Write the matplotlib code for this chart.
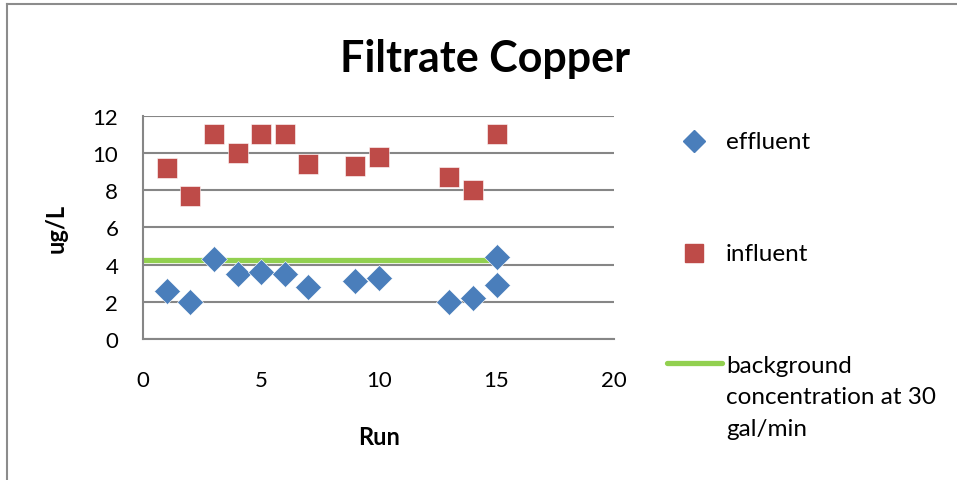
"""
plot.py - Filtrate Copper scatter (effluent / influent vs run) with background line.
"""
import matplotlib
matplotlib.use("Agg")
import matplotlib.pyplot as plt
from matplotlib.lines import Line2D

plt.rcParams["font.family"] = ["Lato", "DejaVu Sans"]

# ── Data ──────────────────────────────────────────────────────────────────────
eff_run = [1, 2, 3, 4, 5, 6, 7, 9, 10, 13, 14, 15, 15]
eff_val = [2.6, 2.0, 4.3, 3.5, 3.6, 3.5, 2.8, 3.1, 3.3, 2.0, 2.2, 4.4, 2.9]

inf_run = [1, 2, 3, 4, 5, 6, 7, 9, 10, 13, 14, 15]
inf_val = [9.2, 7.7, 11.0, 10.0, 11.0, 11.0, 9.4, 9.3, 9.8, 8.7, 8.0, 11.0]

bg_run = [0, 15]
bg_val = [4.25, 4.25]

labels = ["effluent", "influent", "background\nconcentration at 30\ngal/min"]

BLUE  = "#4A7EBB"
RED   = "#BE4B48"
GREEN = "#92D050"
GRID  = "#868686"

W, H = 957, 481

# ── Figure ────────────────────────────────────────────────────────────────────
fig = plt.figure(figsize=(W / 100, H / 100), dpi=100)
ax = fig.add_axes([143.3 / W, 1 - 340 / H, 471 / W, 223.3 / H])

ax.plot(bg_run, bg_val, color=GREEN, lw=3.8, solid_capstyle="butt", zorder=2)
ax.plot(eff_run, eff_val, ls="none", marker="D", ms=13, color=BLUE,
        markeredgecolor="white", markeredgewidth=0.4, zorder=3)
ax.plot(inf_run, inf_val, ls="none", marker="s", ms=15, color=RED,
        markeredgecolor="white", markeredgewidth=0.4, zorder=3)

ax.set_xlim(0, 20)
ax.set_ylim(0, 12)
ax.set_xticks(range(0, 21, 5))
ax.set_yticks(range(0, 13, 2))
ax.grid(axis="y", color=GRID, lw=1.5)
ax.set_axisbelow(True)

for side in ("top", "right"):
    ax.spines[side].set_visible(False)
for side in ("left", "bottom"):
    ax.spines[side].set_color(GRID)
    ax.spines[side].set_linewidth(1.5)

ax.tick_params(axis="both", length=0, labelsize=16, colors="black")
ax.tick_params(axis="x", pad=22)
ax.tick_params(axis="y", pad=18)

ax.set_xlabel("Run", fontsize=17, fontweight="bold")
ax.xaxis.set_label_coords(0.5, -0.385)
ax.set_ylabel("ug/L", fontsize=17, fontweight="bold")
ax.yaxis.set_label_coords(-0.16, 0.5)

fig.text(485 / W, 1 - 72 / H, "Filtrate Copper", fontsize=31,
         fontweight="bold", ha="center", va="baseline")

# ── Legend (drawn by hand: Excel-style spacing) ──────────────────────────────
def fx(px):
    return px / W

def fy(py):
    return 1 - py / H

fig.add_artist(Line2D([fx(694)], [fy(142)], marker="D", ms=11, color=BLUE, ls="none"))
fig.add_artist(Line2D([fx(694)], [fy(254)], marker="s", ms=13, color=RED, ls="none"))
fig.add_artist(Line2D([fx(667), fx(722)], [fy(364), fy(364)], color=GREEN, lw=3.8,
                      solid_capstyle="round"))

fig.text(fx(726), fy(149), labels[0], fontsize=17.5, va="baseline")
fig.text(fx(726), fy(261), labels[1], fontsize=17.5, va="baseline")
for i, line in enumerate(labels[2].split("\n")):
    fig.text(fx(726), fy(373 + 31.5 * i), line, fontsize=17.5, va="baseline")

# chart frame (top and left edges visible in the crop)
fig.add_artist(Line2D([fx(7), fx(7)], [fy(5), 0], color="#8C8C8C", lw=1.5))
fig.add_artist(Line2D([fx(7), 1], [fy(5), fy(5)], color="#8C8C8C", lw=1.5))

fig.savefig("out.png", dpi=100)
